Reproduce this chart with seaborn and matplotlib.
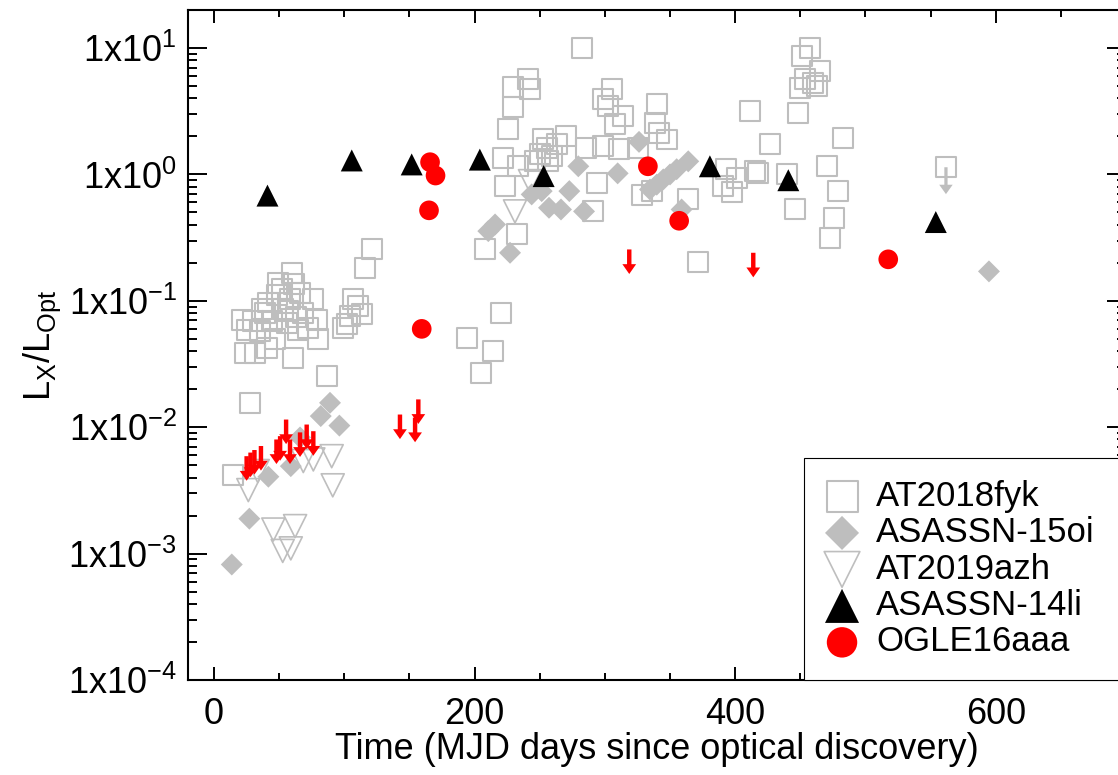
#!/usr/bin/env python3
import numpy as np
import pandas as pd
import matplotlib
matplotlib.use('Agg')
import matplotlib.pyplot as plt
import seaborn as sns
from matplotlib.path import Path
from matplotlib.ticker import LogLocator, MultipleLocator, FuncFormatter, NullFormatter

# AT2018fyk - open grey squares
fyk_days = [14.8, 27.6, 21.3, 30.2, 23.8, 31.5, 25.1, 35.3, 40.4, 39.1, 41.7, 44.3, 46.8,
            48.1, 49.3, 53.2, 55.8, 58.3, 59.6, 60.9, 64.7, 66.0, 68.5, 72.4, 76.2, 78.8,
            80.0, 86.5, 99.2, 101.8, 104.4, 106.9, 110.7, 113.4, 115.9, 121.0, 36.8, 56.8,
            62.9, 52.2, 61.4,
            193.9, 204.9, 213.9, 220.0, 208.0, 223.3, 222.0, 233.5, 225.9, 229.2, 229.2,
            241.2, 242.5, 232.3, 252.2, 270.1, 263.0, 255.3, 250.2, 259.2, 246.4, 256.3,
            285.3, 298.3, 311.1, 325.6, 293.7, 291.1, 282.2, 305.2, 298.3, 302.6, 314.1,
            307.7, 339.8, 338.4, 341.7, 335.9, 347.4, 364.0, 371.7, 328.5,
            411.4, 426.7, 392.9, 401.2, 390.9, 397.3, 415.2, 417.7, 439.5, 445.9, 448.4,
            449.7, 451.0, 457.4, 453.6, 460.0, 462.5, 465.1, 470.2, 475.8, 472.8, 479.1,
            483.0, 561.8]
fyk_ratio = [0.0042, 0.0156, 0.071, 0.069, 0.039, 0.039, 0.059, 0.058, 0.0425, 0.080, 0.097,
             0.069, 0.0495, 0.112, 0.139, 0.0855, 0.067, 0.1025, 0.167, 0.0355, 0.059,
             0.116, 0.080, 0.061, 0.1025, 0.071, 0.0495, 0.0254, 0.061, 0.065, 0.0757,
             0.1025, 0.0908, 0.078, 0.183, 0.255, 0.0855, 0.0824, 0.074, 0.123, 0.135,
             0.051, 0.0267, 0.040, 0.080, 0.255, 0.81, 1.36, 1.16, 2.30, 3.43, 4.94,
             5.71, 4.76, 0.335, 1.92, 2.01, 1.73, 1.63, 1.44, 1.40, 1.27, 1.27,
             1.63, 1.67, 1.58, 1.63, 0.86, 0.51, 10.0, 4.70, 3.92, 3.47, 2.89,
             2.49, 3.58, 2.56, 2.14, 0.74, 1.89, 0.634, 0.204, 0.69,
             3.17, 1.73, 1.11, 0.94, 0.81, 0.72, 1.06, 1.03, 1.0, 0.53, 3.08,
             4.85, 8.63, 10.0, 5.71, 5.31, 5.0, 6.57, 1.16, 0.45, 0.316, 0.74,
             1.95, 1.14]
fyk_lim_days = [561.8]
fyk_lim_ratio = [1.14]

# ASASSN-15oi - filled grey diamonds
oi_days = [13.6, 27.1, 41.7, 58.9, 66.0, 81.9, 89.0, 96.2, 210.5, 215.7, 227.2, 243.8,
           251.5, 257.1, 266.3, 272.7, 279.6, 284.0, 309.8, 326.2, 334.6, 339.8, 344.8,
           350.0, 355.1, 364.0, 358.9, 594.8]
oi_ratio = [0.00082, 0.00189, 0.00406, 0.00492, 0.0083, 0.01225, 0.0156, 0.0103, 0.356,
            0.402, 0.240, 0.695, 0.738, 0.545, 0.528, 0.738, 1.16, 0.51, 1.02, 1.81, 0.76,
            0.83, 0.913, 1.0, 1.10, 1.27, 0.528, 0.171]

# AT2019azh - open grey down triangles
azh_days = [26.3, 33.5, 68.5, 76.2, 90.3, 91.1, 45.5, 62.2, 52.7, 58.9, 231.0, 242.5]
azh_ratio = [0.00318, 0.0045, 0.0054, 0.00556, 0.0059, 0.00347, 0.00155, 0.00165,
             0.00105, 0.0011, 0.51, 0.885]

# ASASSN-14li - black triangles
li_days = [41.0, 105.7, 151.7, 204.0, 253.0, 380.6, 440.8, 554.0]
li_ratio = [0.68, 1.29, 1.20, 1.31, 0.97, 1.16, 0.90, 0.42]

# OGLE16aaa - red circles and upper limits
ogle_days = [159.4, 165.8, 170.0, 165.0, 333.0, 357.0, 517.5]
ogle_ratio = [0.060, 1.25, 0.98, 0.52, 1.16, 0.43, 0.213]
ogle_lim_days = [25.0, 28.0, 31.0, 36.0, 47.9, 50.7, 55.3, 58.3, 66.0, 71.1, 76.2,
                 142.7, 154.3, 156.8, 318.7, 413.9]
ogle_lim_ratio = [0.0059, 0.0063, 0.0066, 0.0071, 0.0080, 0.0085, 0.0115, 0.0080,
                  0.0091, 0.0105, 0.0093, 0.0126, 0.0119, 0.0166, 0.255, 0.24]

GREY = '#bebebe'


def arrow_marker(w, hw, hh):
    # downward arrow whose top sits on the data point
    verts = [(-w, 0), (w, 0), (w, -(1 - hh)), (hw, -(1 - hh)), (0, -1),
             (-hw, -(1 - hh)), (-w, -(1 - hh)), (-w, 0)]
    codes = [Path.MOVETO] + [Path.LINETO] * 6 + [Path.CLOSEPOLY]
    return Path(verts, codes)


def main():
    sns.set_style('ticks')
    plt.rcParams['font.family'] = ['Liberation Sans', 'DejaVu Sans']
    plt.rcParams['mathtext.fontset'] = 'custom'
    plt.rcParams['mathtext.rm'] = 'Liberation Sans'
    plt.rcParams['mathtext.it'] = 'Liberation Sans'
    plt.rcParams['text.color'] = 'black'
    plt.rcParams['axes.labelcolor'] = 'black'

    fig = plt.figure(figsize=(11.18, 7.75), dpi=100)
    ax = fig.add_axes([188 / 1118, 95 / 775, 938 / 1118, 670 / 775])

    fyk = pd.DataFrame({'day': fyk_days, 'ratio': fyk_ratio})
    oi = pd.DataFrame({'day': oi_days, 'ratio': oi_ratio})
    azh = pd.DataFrame({'day': azh_days, 'ratio': azh_ratio})
    li = pd.DataFrame({'day': li_days, 'ratio': li_ratio})
    ogle = pd.DataFrame({'day': ogle_days, 'ratio': ogle_ratio})

    sns.scatterplot(data=fyk, x='day', y='ratio', marker='s', s=207, facecolor='none',
                    edgecolor=GREY, linewidth=1.5, label='AT2018fyk', ax=ax, zorder=2)
    sns.scatterplot(x=fyk_lim_days, y=fyk_lim_ratio, marker=arrow_marker(0.06, 0.25, 0.35),
                    s=1500, color=GREY, edgecolor='none', linewidth=0, ax=ax, zorder=2)
    sns.scatterplot(data=oi, x='day', y='ratio', marker='D', s=125, color=GREY,
                    edgecolor='none', linewidth=0, label='ASASSN-15oi', ax=ax, zorder=3)
    sns.scatterplot(data=azh, x='day', y='ratio', marker='v', s=275, facecolor='none',
                    edgecolor=GREY, linewidth=1.2, label='AT2019azh', ax=ax, zorder=4)
    sns.scatterplot(data=li, x='day', y='ratio', marker='^', s=250, color='black',
                    edgecolor='none', linewidth=0, label='ASASSN-14li', ax=ax, zorder=5)
    sns.scatterplot(data=ogle, x='day', y='ratio', marker='o', s=200, color='red',
                    edgecolor='none', linewidth=0, label='OGLE16aaa', ax=ax, zorder=6)
    sns.scatterplot(x=ogle_lim_days, y=ogle_lim_ratio, marker=arrow_marker(0.09, 0.28, 0.4),
                    s=1250, color='red', edgecolor='none', linewidth=0, ax=ax, zorder=7)

    ax.set_yscale('log')
    ax.set_xlim(-20, 700)
    ax.set_ylim(1e-4, 20)

    ax.xaxis.set_major_locator(MultipleLocator(200))
    ax.xaxis.set_minor_locator(MultipleLocator(50))
    ax.yaxis.set_major_locator(LogLocator(base=10, numticks=20))
    ax.yaxis.set_minor_locator(LogLocator(base=10, subs=np.arange(2, 10), numticks=20))
    ax.yaxis.set_minor_formatter(NullFormatter())
    ax.yaxis.set_major_formatter(FuncFormatter(
        lambda v, p: r'$\mathregular{1x10^{%d}}$' % round(np.log10(v))))

    ax.tick_params(which='both', direction='in', top=True, right=True, width=1.4,
                   colors='black', labelsize=26)
    ax.tick_params(axis='x', which='major', length=9.6, pad=12)
    ax.tick_params(axis='x', which='minor', length=4.8)
    ax.tick_params(axis='y', which='major', length=13.4, pad=8)
    ax.tick_params(axis='y', which='minor', length=6.7)
    for sp in ax.spines.values():
        sp.set_linewidth(1.5)
        sp.set_color('black')

    ax.set_xlabel('Time (MJD days since optical discovery)', fontsize=26, labelpad=0)
    ax.set_ylabel(r'$\mathregular{L_X/L_{Opt}}$', fontsize=26, labelpad=4)

    handles, labels = ax.get_legend_handles_labels()
    leg = ax.legend(handles, labels, loc='lower left', mode='expand',
                    bbox_to_anchor=(804 / 1118, 95 / 775, 340 / 1118, 229 / 775),
                    bbox_transform=fig.transFigure, borderaxespad=0, fontsize=25,
                    markerscale=1.55, handlelength=0.95, handletextpad=0.5,
                    labelspacing=0.1, borderpad=0.62, fancybox=False, framealpha=1,
                    edgecolor='black')
    leg.get_frame().set_linewidth(0.8)

    fig.savefig('out.png', dpi=100)


if __name__ == "__main__":
    main()
